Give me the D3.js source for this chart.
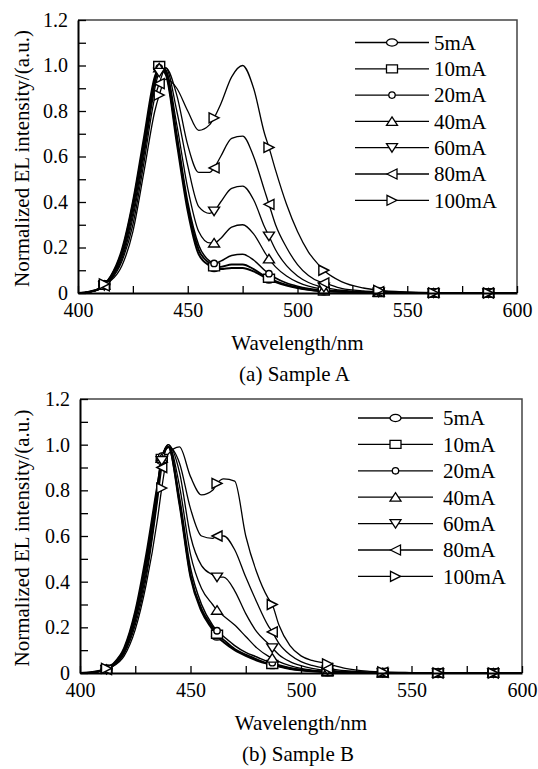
<!DOCTYPE html>
<html>
<head>
<meta charset="utf-8">
<script src="https://cdn.jsdelivr.net/npm/d3@7"></script>
<style>
  body { margin: 0; background: #fff; }
  text { font-family: "Liberation Serif", "Times New Roman", serif; fill: #000; }
</style>
</head>
<body>
<div id="chart"></div>
<script>
// page set up
const FRAME_WIDTH = 538;
const FRAME_HEIGHT = 769;

// legend labels, one per drive current
const SERIES_NAMES = ["5mA", "10mA", "20mA", "40mA", "60mA", "80mA", "100mA"];
const MARKER_TYPES = ["ellipse", "square", "dot", "up", "down", "left", "right"];
const LINE_WIDTHS = [2.0, 1.9, 1.5, 1.3, 1.3, 1.3, 1.3];

// wavelengths (nm) the values were read at
const WL = [400, 405, 410, 412, 415, 420, 425, 430, 435, 437, 440, 445, 450, 455, 460, 462, 465, 470,
  475, 480, 485, 487, 490, 495, 500, 505, 510, 512, 520, 530, 537, 550, 562, 575, 587, 600];
// wavelengths that carry a marker
const MARK_WL = [412, 437, 462, 487, 512, 537, 562, 587];

const X_TICKS = [400, 425, 450, 475, 500, 525, 550, 575, 600];
const Y_TICKS = [0, 0.1, 0.2, 0.3, 0.4, 0.5, 0.6, 0.7, 0.8, 0.9, 1.0, 1.1, 1.2];

// Sample A, normalized EL intensity
const A_5 = [0, 0.006, 0.022, 0.038, 0.075, 0.19, 0.4, 0.68, 0.95, 0.99, 0.96, 0.66, 0.36, 0.17, 0.12, 0.11, 0.105, 0.11,
  0.11, 0.095, 0.07, 0.06, 0.048, 0.033, 0.022, 0.014, 0.009, 0.008, 0.005, 0.003, 0.002, 0.001, 0, 0, 0, 0];
const A_10 = [0, 0.005, 0.021, 0.037, 0.072, 0.18, 0.39, 0.66, 0.94, 1.0, 0.97, 0.68, 0.38, 0.19, 0.13, 0.115, 0.115, 0.125,
  0.125, 0.105, 0.075, 0.065, 0.052, 0.036, 0.024, 0.015, 0.01, 0.009, 0.005, 0.003, 0.002, 0.001, 0, 0, 0, 0];
const A_20 = [0, 0.005, 0.02, 0.036, 0.07, 0.17, 0.37, 0.64, 0.93, 0.99, 0.98, 0.7, 0.4, 0.21, 0.14, 0.13, 0.14, 0.165,
  0.17, 0.145, 0.1, 0.085, 0.066, 0.044, 0.03, 0.02, 0.013, 0.011, 0.006, 0.003, 0.002, 0.001, 0, 0, 0, 0];
const A_40 = [0, 0.004, 0.019, 0.034, 0.066, 0.16, 0.35, 0.62, 0.92, 0.99, 0.98, 0.74, 0.46, 0.27, 0.22, 0.22, 0.24, 0.29,
  0.3, 0.26, 0.18, 0.15, 0.115, 0.075, 0.048, 0.03, 0.019, 0.016, 0.008, 0.004, 0.003, 0.001, 0, 0, 0, 0];
const A_60 = [0, 0.004, 0.018, 0.032, 0.062, 0.15, 0.33, 0.6, 0.9, 0.97, 0.99, 0.8, 0.56, 0.38, 0.35, 0.36, 0.4, 0.46,
  0.47, 0.41, 0.29, 0.25, 0.19, 0.12, 0.075, 0.046, 0.029, 0.025, 0.012, 0.006, 0.004, 0.002, 0, 0, 0, 0];
const A_80 = [0, 0.004, 0.017, 0.031, 0.058, 0.14, 0.3, 0.57, 0.86, 0.92, 0.99, 0.87, 0.65, 0.53, 0.53, 0.55, 0.6, 0.68,
  0.69, 0.6, 0.45, 0.39, 0.3, 0.2, 0.125, 0.077, 0.05, 0.045, 0.02, 0.009, 0.006, 0.003, 0.001, 0, 0, 0];
const A_100 = [0, 0.004, 0.02, 0.04, 0.055, 0.12, 0.27, 0.53, 0.8, 0.87, 0.94, 0.9, 0.8, 0.715, 0.74, 0.77, 0.83, 0.95,
  1.0, 0.9, 0.7, 0.64, 0.54, 0.39, 0.27, 0.18, 0.12, 0.1, 0.05, 0.022, 0.012, 0.004, 0.001, 0, 0, 0];

// Sample B, normalized EL intensity
const B_5 = [0, 0.003, 0.012, 0.018, 0.04, 0.11, 0.27, 0.52, 0.82, 0.93, 0.99, 0.74, 0.42, 0.27, 0.19, 0.16, 0.135, 0.1,
  0.075, 0.055, 0.04, 0.035, 0.028, 0.018, 0.012, 0.008, 0.005, 0.004, 0.002, 0.001, 0, 0, 0, 0, 0, 0];
const B_10 = [0, 0.002, 0.011, 0.017, 0.038, 0.105, 0.26, 0.5, 0.81, 0.94, 0.99, 0.75, 0.43, 0.28, 0.2, 0.17, 0.145, 0.105,
  0.08, 0.06, 0.042, 0.037, 0.03, 0.02, 0.013, 0.008, 0.005, 0.004, 0.002, 0.001, 0, 0, 0, 0, 0, 0];
const B_20 = [0, 0.002, 0.01, 0.017, 0.036, 0.1, 0.245, 0.48, 0.8, 0.95, 0.99, 0.77, 0.46, 0.3, 0.21, 0.185, 0.16, 0.12,
  0.09, 0.07, 0.05, 0.045, 0.035, 0.023, 0.015, 0.01, 0.006, 0.005, 0.003, 0.001, 0, 0, 0, 0, 0, 0];
const B_40 = [0, 0.002, 0.01, 0.016, 0.035, 0.096, 0.235, 0.46, 0.79, 0.94, 1.0, 0.82, 0.52, 0.37, 0.3, 0.275, 0.25, 0.21,
  0.16, 0.11, 0.075, 0.065, 0.05, 0.032, 0.02, 0.013, 0.008, 0.007, 0.004, 0.002, 0.001, 0, 0, 0, 0, 0];
const B_60 = [0, 0.002, 0.009, 0.015, 0.033, 0.09, 0.225, 0.44, 0.77, 0.93, 1.0, 0.88, 0.6, 0.47, 0.43, 0.42, 0.42, 0.36,
  0.26, 0.18, 0.13, 0.11, 0.08, 0.05, 0.032, 0.02, 0.013, 0.012, 0.006, 0.003, 0.002, 0, 0, 0, 0, 0];
const B_80 = [0, 0.002, 0.009, 0.015, 0.031, 0.085, 0.21, 0.42, 0.75, 0.9, 0.99, 0.92, 0.72, 0.6, 0.59, 0.6, 0.6, 0.54,
  0.42, 0.31, 0.21, 0.18, 0.13, 0.08, 0.05, 0.033, 0.022, 0.02, 0.01, 0.004, 0.003, 0.001, 0, 0, 0, 0];
const B_100 = [0, 0.002, 0.012, 0.02, 0.03, 0.075, 0.19, 0.39, 0.67, 0.81, 0.96, 0.99, 0.86, 0.78, 0.8, 0.83, 0.85, 0.84,
  0.6, 0.44, 0.33, 0.3, 0.21, 0.12, 0.075, 0.055, 0.045, 0.04, 0.02, 0.008, 0.005, 0.002, 0, 0, 0, 0];

const SVG = d3.select("#chart")
  .append("svg")
  .attr("width", FRAME_WIDTH)
  .attr("height", FRAME_HEIGHT)
  .style("background", "#fff");

// marker outline centred on (0,0)
function markerPath(type) {
  switch (type) {
    case "ellipse": return "M-5.5,0A5.5,3.6 0 1,0 5.5,0A5.5,3.6 0 1,0 -5.5,0Z";
    case "square": return "M-5.5,-4H5.5V4H-5.5Z";
    case "dot": return "M-3.2,0A3.2,3.2 0 1,0 3.2,0A3.2,3.2 0 1,0 -3.2,0Z";
    case "up": return "M0,-4.5L5.5,4L-5.5,4Z";
    case "down": return "M0,4.5L5.5,-4L-5.5,-4Z";
    case "left": return "M-5,0L5,-5L5,5Z";
    case "right": return "M5,0L-5,-5L-5,5Z";
  }
}

function build_panel(cfg) {
  const g = SVG.append("g");

  const X_SCALE = d3.scaleLinear().domain([400, 600]).range([cfg.left, cfg.right]);
  const Y_SCALE = d3.scaleLinear().domain([0, 1.2]).range([cfg.bottom, cfg.top]);

  // frame: top and right edges
  g.append("path")
    .attr("d", "M" + cfg.left + "," + cfg.top + "H" + cfg.right + "V" + cfg.bottom)
    .attr("fill", "none")
    .attr("stroke", "#444")
    .attr("stroke-width", 1.5);

  // curves
  const line = d3.line()
    .x((d) => { return X_SCALE(d[0]); })
    .y((d) => { return Y_SCALE(d[1]); })
    .curve(d3.curveMonotoneX);

  cfg.series.forEach((vals, s) => {
    g.append("path")
      .datum(WL.map((w, i) => [w, vals[i]]))
      .attr("d", line)
      .attr("fill", "none")
      .attr("stroke", "#000")
      .attr("stroke-width", LINE_WIDTHS[s]);
  });

  // markers
  cfg.series.forEach((vals, s) => {
    const pts = WL.map((w, i) => [w, vals[i]]).filter((d) => MARK_WL.includes(d[0]));
    g.selectAll(null)
      .data(pts)
      .enter()
      .append("path")
      .attr("d", markerPath(MARKER_TYPES[s]))
      .attr("transform", (d) => "translate(" + X_SCALE(d[0]) + "," + Y_SCALE(d[1]) + ")")
      .attr("fill", "#fff")
      .attr("stroke", "#000")
      .attr("stroke-width", 1.4);
  });

  // X axis, inward ticks
  g.append("g")
    .attr("transform", "translate(0," + cfg.bottom + ")")
    .call(d3.axisBottom(X_SCALE)
      .tickValues(X_TICKS)
      .tickSizeInner(-7)
      .tickSizeOuter(0)
      .tickPadding(10)
      .tickFormat((d) => { return d % 50 === 0 ? d : ""; }))
    .call((a) => {
      a.select(".domain").attr("stroke", "#000").attr("stroke-width", 2);
      a.selectAll(".tick line").attr("stroke", "#000").attr("stroke-width", 1.3);
      a.selectAll("text").attr("font-size", "20px").attr("font-family", "Liberation Serif").attr("fill", "#000");
    });

  // Y axis, inward ticks
  g.append("g")
    .attr("transform", "translate(" + cfg.left + ",0)")
    .call(d3.axisLeft(Y_SCALE)
      .tickValues(Y_TICKS)
      .tickSizeInner(-8)
      .tickSizeOuter(0)
      .tickPadding(10)
      .tickFormat((d) => {
        const k = Math.round(d * 10);
        if (k % 2 !== 0) { return ""; }
        return k === 0 ? "0" : d3.format(".1f")(d);
      }))
    .call((a) => {
      a.select(".domain").attr("stroke", "#000").attr("stroke-width", 2);
      a.selectAll(".tick line").attr("stroke", "#000").attr("stroke-width", 1.3);
      a.selectAll("text").attr("font-size", "20px").attr("font-family", "Liberation Serif").attr("fill", "#000");
    });

  // axis titles
  g.append("text")
    .attr("x", (cfg.left + cfg.right) / 2)
    .attr("y", cfg.bottom + 57)
    .attr("text-anchor", "middle")
    .attr("font-size", "21px")
    .text("Wavelength/nm");

  g.append("text")
    .attr("transform", "translate(29," + ((cfg.top + cfg.bottom) / 2 + 2) + ") rotate(-90)")
    .attr("text-anchor", "middle")
    .attr("font-size", "21px")
    .text("Normalized EL intensity/(a.u.)");

  g.append("text")
    .attr("x", (cfg.left + cfg.right) / 2 - 3)
    .attr("y", cfg.bottom + 88)
    .attr("text-anchor", "middle")
    .attr("font-size", "21px")
    .text(cfg.caption);

  // legend
  SERIES_NAMES.forEach((name, s) => {
    const y = cfg.legTop + s * cfg.legStep;
    g.append("line")
      .attr("x1", cfg.legX0).attr("x2", cfg.legX1)
      .attr("y1", y).attr("y2", y)
      .attr("stroke", "#000")
      .attr("stroke-width", 1.3);
    g.append("path")
      .attr("d", markerPath(MARKER_TYPES[s]))
      .attr("transform", "translate(" + ((cfg.legX0 + cfg.legX1) / 2) + "," + y + ")")
      .attr("fill", "#fff")
      .attr("stroke", "#000")
      .attr("stroke-width", 1.3);
    g.append("text")
      .attr("x", cfg.legText)
      .attr("y", y)
      .attr("dy", "0.35em")
      .attr("font-size", "21px")
      .text(name);
  });
}

build_panel({
  left: 78, right: 517, top: 20, bottom: 293,
  series: [A_5, A_10, A_20, A_40, A_60, A_80, A_100],
  caption: "(a) Sample A",
  legX0: 355, legX1: 429, legText: 434, legTop: 42.5, legStep: 26.3
});

build_panel({
  left: 80, right: 522, top: 399, bottom: 673,
  series: [B_5, B_10, B_20, B_40, B_60, B_80, B_100],
  caption: "(b) Sample B",
  legX0: 358, legX1: 433, legText: 443, legTop: 418, legStep: 26.4
});
</script>
</body>
</html>
